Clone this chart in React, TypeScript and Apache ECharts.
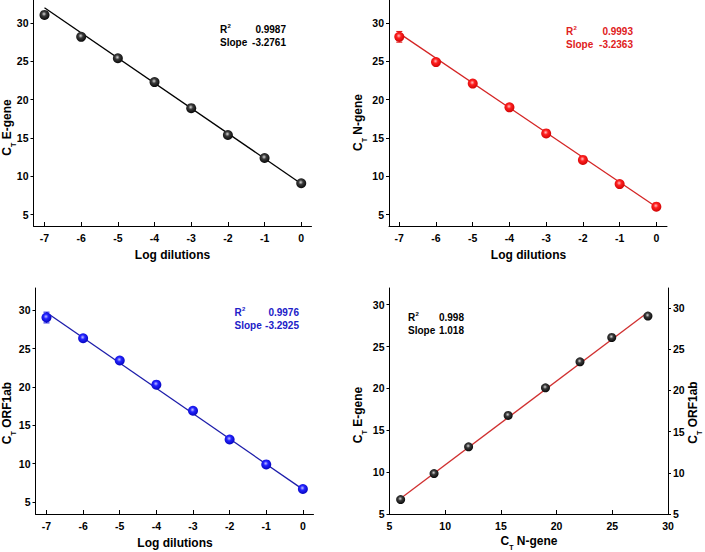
import React, { useEffect, useRef } from "react";
import * as echarts from "echarts";

// ---------- data ----------
const dilutions = [-7, -6, -5, -4, -3, -2, -1, 0];
const eGeneCt = [31.05, 28.2, 25.4, 22.3, 18.9, 15.4, 12.4, 9.1];
const eGeneErr = [0.15, 0.15, 0.1, 0.1, 0.1, 0.1, 0.1, 0.1];
const nGeneCt = [28.2, 24.9, 22.1, 19.0, 15.6, 12.15, 9.0, 6.05];
const nGeneErr = [0.7, 0.25, 0.15, 0.15, 0.1, 0.15, 0.1, 0.1];
const orfCt = [29.05, 26.35, 23.45, 20.3, 16.9, 13.15, 9.9, 6.7];
const orfErr = [0.7, 0.15, 0.15, 0.2, 0.1, 0.1, 0.1, 0.1];
const corrNGene = [6.0, 9.0, 12.1, 15.65, 19.0, 22.1, 24.95, 28.2];
const corrOrf = [6.75, 9.9, 13.15, 16.95, 20.3, 23.45, 26.4, 29.0];

const fitE = [[-7, 32.0], [0, 9.05]];
const fitN = [[-7, 28.65], [0, 6.0]];
const fitOrf = [[-7, 29.7], [0, 6.65]];
const fitCorr = [[6.05, 6.95], [28.2, 29.45]];

const dilutionTicks = [-7, -6, -5, -4, -3, -2, -1, 0];
const ctTicks = [5, 10, 15, 20, 25, 30];
const corrXTicks = [5, 10, 15, 20, 25, 30];

const statR2 = ["0.9987", "0.9993", "0.9976", "0.998"];
const statSlope = ["-3.2761", "-3.2363", "-3.2925", "1.018"];

const FONT = '"Liberation Sans", Arial, Helvetica, sans-serif';

const ball = (hi: string, mid: string, dark: string) => ({
  type: "radial",
  x: 0.45,
  y: 0.4,
  r: 0.65,
  colorStops: [
    { offset: 0, color: hi },
    { offset: 0.35, color: mid },
    { offset: 1, color: dark },
  ],
});

function xAxisCfg(gridIndex: number, min: number, max: number, ticks: number[]) {
  return {
    type: "value",
    gridIndex,
    min,
    max,
    axisLine: { show: true, onZero: false, lineStyle: { color: "#000", width: 1 } },
    axisTick: { show: true, inside: true, length: 4, customValues: ticks, lineStyle: { color: "#000" } },
    axisLabel: { customValues: ticks, color: "#000", fontWeight: "bold", fontSize: 10.5, fontFamily: FONT, margin: 6 },
    splitLine: { show: false },
  };
}

function yAxisCfg(gridIndex: number, min: number, max: number, ticks: number[], position = "left") {
  return {
    type: "value",
    gridIndex,
    min,
    max,
    position,
    axisLine: { show: true, onZero: false, lineStyle: { color: "#000", width: 1 } },
    axisTick: { show: true, inside: false, length: 3, customValues: ticks, lineStyle: { color: "#000" } },
    axisLabel: { customValues: ticks, color: "#000", fontWeight: "bold", fontSize: 10.5, fontFamily: FONT, margin: 5 },
    splitLine: { show: false },
  };
}

function errorSeries(idx: number, yIdx: number, xs: number[], ys: number[], es: number[], color: string) {
  return {
    type: "custom",
    xAxisIndex: idx,
    yAxisIndex: yIdx,
    z: 3,
    silent: true,
    encode: { x: 0, y: 1 },
    data: xs.map((x, i) => [x, ys[i], es[i]]),
    renderItem: (params: any, api: any) => {
      const x = api.value(0);
      const y = api.value(1);
      const e = api.value(2);
      const top = api.coord([x, y + e]);
      const bot = api.coord([x, y - e]);
      const cw = 3;
      const st = { stroke: color, lineWidth: 1 };
      return {
        type: "group",
        children: [
          { type: "line", shape: { x1: top[0], y1: top[1], x2: bot[0], y2: bot[1] }, style: st },
          { type: "line", shape: { x1: top[0] - cw, y1: top[1], x2: top[0] + cw, y2: top[1] }, style: st },
          { type: "line", shape: { x1: bot[0] - cw, y1: bot[1], x2: bot[0] + cw, y2: bot[1] }, style: st },
        ],
      };
    },
  };
}

function fitSeries(idx: number, yIdx: number, data: number[][], color: string) {
  return {
    type: "line",
    xAxisIndex: idx,
    yAxisIndex: yIdx,
    data,
    showSymbol: false,
    silent: true,
    z: 2,
    lineStyle: { color, width: 1.3 },
  };
}

function pointSeries(idx: number, yIdx: number, xs: number[], ys: number[], grad: any, size: number) {
  return {
    type: "scatter",
    xAxisIndex: idx,
    yAxisIndex: yIdx,
    z: 4,
    symbolSize: size,
    data: xs.map((x, i) => [x, ys[i]]),
    itemStyle: { color: grad, opacity: 1 },
  };
}

function statText(x: number, rightX: number, y: number, r2: string, slope: string, color: string) {
  const base = { fontFamily: FONT, fontWeight: "bold", fontSize: 10, fill: color, textVerticalAlign: "middle" };
  return [
    { type: "text", x, y, style: { ...base, text: "R", textAlign: "left" } },
    { type: "text", x: x + 7.5, y: y - 4, style: { ...base, fontSize: 6, text: "2", textAlign: "left" } },
    { type: "text", x: rightX, y, style: { ...base, text: r2, textAlign: "right" } },
    { type: "text", x, y: y + 13, style: { ...base, text: "Slope", textAlign: "left" } },
    { type: "text", x: rightX, y: y + 13, style: { ...base, text: slope, textAlign: "right" } },
  ];
}

function ctTitle(x: number, y: number, name: string, vertical: boolean) {
  const tok = { fontFamily: FONT, fontWeight: "bold", fontSize: 12, fill: "#000", lineHeight: 16, verticalAlign: "top" };
  return {
    type: "text",
    x,
    y,
    rotation: vertical ? Math.PI / 2 : 0,
    style: {
      text: "{c|C}{t|T}{c| " + name + "}",
      textAlign: "center",
      textVerticalAlign: "middle",
      rich: {
        c: tok,
        t: { fontFamily: FONT, fontWeight: "bold", fontSize: 7, fill: "#000", lineHeight: 7, verticalAlign: "bottom" },
      },
    },
  };
}

function plainTitle(x: number, y: number, text: string) {
  return {
    type: "text",
    x,
    y,
    style: { text, fontFamily: FONT, fontWeight: "bold", fontSize: 12, fill: "#000", textAlign: "center", textVerticalAlign: "middle" },
  };
}

export default function App() {
  const ref = useRef<HTMLDivElement>(null);
  useEffect(() => {
    if (!ref.current) return;
    const chart = echarts.init(ref.current, undefined, { renderer: "svg" });
    const black = ball("#d8d8d8", "#3a3a3a", "#000000");
    const red = ball("#ffc0c0", "#ff2020", "#c80000");
    const blue = ball("#c0c0ff", "#2424ff", "#0000b4");
    const option: any = {
      animation: false,
      backgroundColor: "#fff",
      grid: [
        { left: 33.5, top: 0, width: 278, height: 226 },
        { left: 389, top: 0, width: 278, height: 226 },
        { left: 35.5, top: 288, width: 278, height: 226 },
        { left: 389.5, top: 288, width: 278.5, height: 226 },
      ],
      xAxis: [
        xAxisCfg(0, -7.3, 0.28, dilutionTicks),
        xAxisCfg(1, -7.28, 0.29, dilutionTicks),
        xAxisCfg(2, -7.3, 0.29, dilutionTicks),
        xAxisCfg(3, 5, 30, corrXTicks),
      ],
      yAxis: [
        yAxisCfg(0, 3.53, 33, ctTicks),
        yAxisCfg(1, 3.53, 33, ctTicks),
        yAxisCfg(2, 3.44, 32.9, ctTicks),
        yAxisCfg(3, 5, 32, ctTicks),
        yAxisCfg(3, 5, 32.4, ctTicks, "right"),
      ],
      series: [
        fitSeries(0, 0, fitE, "#000000"),
        errorSeries(0, 0, dilutions, eGeneCt, eGeneErr, "#000000"),
        pointSeries(0, 0, dilutions, eGeneCt, black, 10),
        fitSeries(1, 1, fitN, "#d42424"),
        errorSeries(1, 1, dilutions, nGeneCt, nGeneErr, "#e01010"),
        pointSeries(1, 1, dilutions, nGeneCt, red, 10),
        fitSeries(2, 2, fitOrf, "#1c1caa"),
        errorSeries(2, 2, dilutions, orfCt, orfErr, "#1010e0"),
        pointSeries(2, 2, dilutions, orfCt, blue, 10),
        fitSeries(3, 4, fitCorr, "#d03030"),
        pointSeries(3, 4, corrNGene, corrOrf, black, 9),
      ],
      graphic: [
        ...statText(220, 286, 29.5, statR2[0], statSlope[0], "#000000"),
        ...statText(566, 633, 31.5, statR2[1], statSlope[1], "#e02020"),
        ...statText(234.5, 299, 312.5, statR2[2], statSlope[2], "#2020c8"),
        ...statText(408, 464, 317.5, statR2[3], statSlope[3], "#000000"),
        plainTitle(172.5, 255, "Log dilutions"),
        plainTitle(528.5, 255, "Log dilutions"),
        plainTitle(175, 543, "Log dilutions"),
        ctTitle(529, 543, "N-gene", false),
        ctTitle(9, 127.5, "E-gene", true),
        ctTitle(360, 122.5, "N-gene", true),
        ctTitle(9, 413, "ORF1ab", true),
        ctTitle(360, 415, "E-gene", true),
        ctTitle(695, 412.5, "ORF1ab", true),
      ],
    };
    chart.setOption(option);
    return () => chart.dispose();
  }, []);
  return (
    <div
      ref={ref}
      style={{ position: "absolute", left: 0, top: 0, width: 705, height: 552, background: "#fff" }}
    />
  );
}
